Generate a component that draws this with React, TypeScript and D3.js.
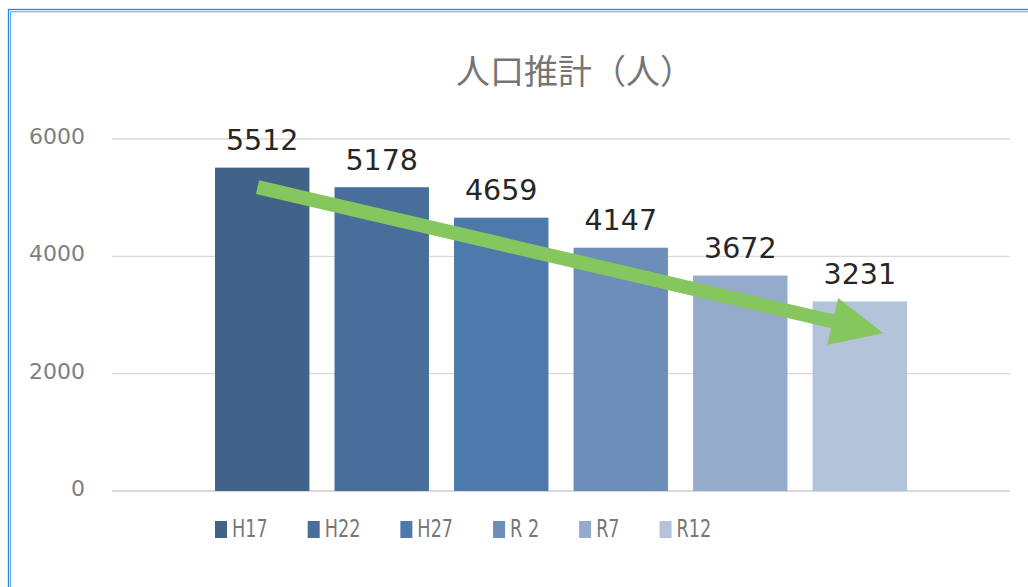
import React, { useEffect, useRef } from "react";
import * as d3 from "d3";

const W = 1028;
const H = 587;

const chartTitle = "人口推計（人）";
const seriesNames = ["H17", "H22", "H27", "R 2", "R7", "R12"];
const seriesValues = [5512, 5178, 4659, 4147, 3672, 3231];
const seriesColors = ["#41638a", "#486e9b", "#4d79ab", "#6e8eba", "#95abcb", "#b3c3da"];
const yTicks = [0, 2000, 4000, 6000];

// trend arrow, given in data terms: [series, position inside band 0..1, value]
const arrowFrom = { series: "H17", at: 0.45, value: 5180 };
const arrowTo = { series: "R12", at: 0.75, value: 2690 };

const margin = { left: 112, right: 18, top: 139, bottom: 96 };

export default function App() {
  const ref = useRef<SVGSVGElement | null>(null);

  useEffect(() => {
    const svg = d3.select(ref.current);
    svg.selectAll("*").remove();

    const x0 = margin.left;
    const x1 = W - margin.right;
    const yBase = H - margin.bottom;

    // chart frame (double blue line, runs off the right/bottom)
    svg.append("rect")
      .attr("x", 8.5).attr("y", 9.5)
      .attr("width", W + 20).attr("height", H + 20)
      .attr("fill", "none").attr("stroke", "#2a86d2").attr("stroke-width", 1.3);
    svg.append("rect")
      .attr("x", 10.5).attr("y", 11.8)
      .attr("width", W + 20).attr("height", H + 20)
      .attr("fill", "none").attr("stroke", "#5ea6e0").attr("stroke-width", 1);

    const y = d3.scaleLinear().domain([0, 6000]).range([yBase, margin.top]);

    // one category, six series side by side
    const groupPad = 103;
    const x = d3.scaleBand<string>()
      .domain(seriesNames)
      .range([x0 + groupPad, x1 - groupPad])
      .paddingInner(0.21);

    // gridlines
    svg.append("g")
      .selectAll("line")
      .data(yTicks)
      .enter().append("line")
      .attr("x1", x0).attr("x2", x1)
      .attr("y1", (d) => y(d)).attr("y2", (d) => y(d))
      .attr("stroke", "#d9d9d9")
      .attr("stroke-width", (d) => (d === 0 ? 2.2 : 1.4));

    // tick labels
    svg.append("g")
      .selectAll("text")
      .data(yTicks)
      .enter().append("text")
      .attr("x", 85)
      .attr("y", (d) => y(d) + 5)
      .attr("text-anchor", "end")
      .attr("font-family", "DejaVu Sans, Verdana, sans-serif")
      .attr("font-size", 22)
      .attr("fill", "#7f7f7f")
      .text((d) => String(d));

    // bars
    const bars = seriesNames.map((name, i) => ({ name, value: seriesValues[i], color: seriesColors[i] }));
    svg.append("g")
      .selectAll("rect")
      .data(bars)
      .enter().append("rect")
      .attr("x", (d) => x(d.name)!)
      .attr("width", x.bandwidth())
      .attr("y", (d) => y(d.value))
      .attr("height", (d) => yBase - y(d.value))
      .attr("fill", (d) => d.color);

    // value labels
    svg.append("g")
      .selectAll("text")
      .data(bars)
      .enter().append("text")
      .attr("x", (d) => x(d.name)! + x.bandwidth() / 2)
      .attr("y", (d) => y(d.value) - 17.5)
      .attr("text-anchor", "middle")
      .attr("font-family", "DejaVu Sans, Verdana, sans-serif")
      .attr("font-size", 28.5)
      .attr("fill", "#262626")
      .text((d) => String(d.value));

    // trend arrow
    const ax = x(arrowFrom.series)! + x.bandwidth() * arrowFrom.at;
    const ay = y(arrowFrom.value);
    const bx = x(arrowTo.series)! + x.bandwidth() * arrowTo.at;
    const by = y(arrowTo.value);
    const ang = Math.atan2(by - ay, bx - ax);
    const len = Math.hypot(bx - ax, by - ay);
    const shaft = 14;
    const headLen = 52;
    const headW = 48;
    const arrowPath = d3.path();
    arrowPath.moveTo(0, -shaft / 2);
    arrowPath.lineTo(len - headLen, -shaft / 2);
    arrowPath.lineTo(len - headLen, -headW / 2);
    arrowPath.lineTo(len, 0);
    arrowPath.lineTo(len - headLen, headW / 2);
    arrowPath.lineTo(len - headLen, shaft / 2);
    arrowPath.lineTo(0, shaft / 2);
    arrowPath.closePath();
    svg.append("path")
      .attr("d", arrowPath.toString())
      .attr("transform", `translate(${ax},${ay}) rotate(${(ang * 180) / Math.PI})`)
      .attr("fill", "#86c65e");

    // title
    svg.append("text")
      .attr("x", 575)
      .attr("y", 84)
      .attr("text-anchor", "middle")
      .attr("font-family", "Noto Sans CJK JP, sans-serif")
      .attr("font-size", 34)
      .attr("fill", "#757575")
      .text(chartTitle);

    // legend: squeezed text, items laid out from measured widths,
    // starting under the first bar
    const squeeze = 0.72;
    const legend = svg.append("g");
    const items = legend.selectAll("g")
      .data(bars)
      .enter().append("g");
    items.append("rect")
      .attr("width", 12).attr("height", 17)
      .attr("y", -16)
      .attr("fill", (d) => d.color);
    items.append("text")
      .attr("transform", `translate(17,0) scale(${squeeze},1)`)
      .attr("font-family", "DejaVu Sans, sans-serif")
      .attr("font-size", 24.5)
      .attr("fill", "#777777")
      .text((d) => d.name);
    let cx = 0;
    const offsets: number[] = [];
    items.each(function () {
      const t = d3.select(this).select("text").node() as SVGTextElement;
      offsets.push(cx);
      cx += 17 + t.getComputedTextLength() * squeeze + 40;
    });
    const start = x(seriesNames[0])!;
    items.attr("transform", (_, i) => `translate(${start + offsets[i]},${yBase + 46})`);
  }, []);

  return (
    <svg
      ref={ref}
      width={W}
      height={H}
      style={{ position: "absolute", left: 0, top: 0, background: "#fff" }}
    />
  );
}
